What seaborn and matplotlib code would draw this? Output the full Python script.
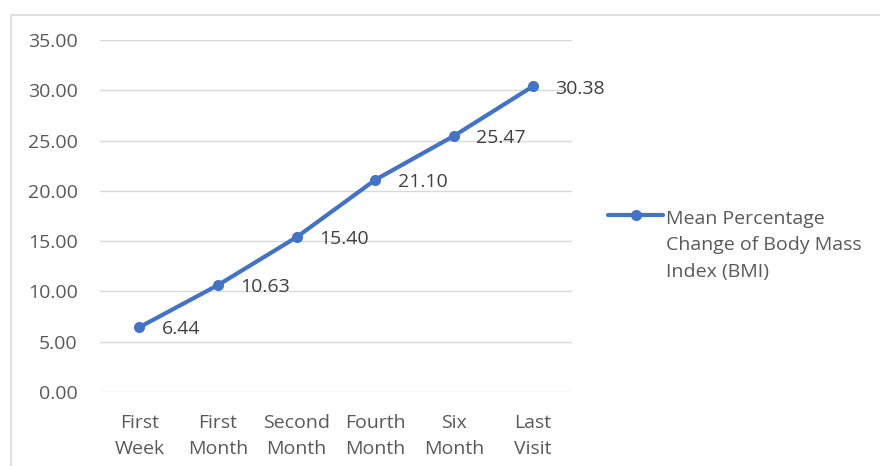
import matplotlib
matplotlib.use("Agg")
import matplotlib.pyplot as plt
import seaborn as sns
import pandas as pd
from matplotlib.patches import Rectangle
from matplotlib.lines import Line2D

categories = ["First\nWeek", "First\nMonth", "Second\nMonth", "Fourth\nMonth", "Six\nMonth", "Last\nVisit"]
values = [6.44, 10.63, 15.40, 21.10, 25.47, 30.38]
series_name = "Mean Percentage\nChange of Body Mass\nIndex (BMI)"
yticks = [0, 5, 10, 15, 20, 25, 30, 35]

sns.set_theme(style="white")
plt.rcParams['font.family'] = ['Open Sans', 'DejaVu Sans']

FS = 14
W, H = 880, 466
fig = plt.figure(figsize=(W / 100, H / 100), dpi=100)
ax = fig.add_axes([100 / W, 1 - 392 / H, (572 - 100) / W, (392 - 40) / H])

df = pd.DataFrame({"cat": categories, "val": values})
color = "#4472C4"
sns.lineplot(data=df, x="cat", y="val", color=color, sort=False, legend=False,
             marker="o", markersize=8, markeredgewidth=0, linewidth=3, ax=ax)

ax.set_xlim(-0.5, len(categories) - 0.5)
ax.set_ylim(0, 35)
ax.set_yticks(yticks)
ax.set_yticklabels([f"{v:.2f}" for v in yticks])
ax.grid(axis="y", color="#d9d9d9", linewidth=1)
ax.set_axisbelow(True)
for s in ax.spines.values():
    s.set_visible(False)
ax.set_xlabel("")
ax.set_ylabel("")
ax.tick_params(axis="both", length=0, labelsize=FS, labelcolor="#595959")
ax.tick_params(axis="y", pad=16)
ax.tick_params(axis="x", pad=16)
for t in ax.get_xticklabels():
    t.set_linespacing(1.52)

for i, v in enumerate(values):
    ax.annotate(f"{v:.2f}", (i, v), xytext=(16, -1.5), textcoords="offset points",
                ha="left", va="center", fontsize=FS, color="#404040")

# legend (manual, Excel-like: handle aligned with first text line)
ly = 1 - 215 / H
fig.add_artist(Line2D([608 / W, 663 / W], [ly, ly], transform=fig.transFigure,
                      color=color, linewidth=3))
fig.add_artist(Line2D([636 / W], [ly], transform=fig.transFigure, color=color,
                      marker="o", markersize=8, markeredgewidth=0, linestyle="none"))
fig.text(666 / W, 1 - 277 / H, series_name, ha="left", va="baseline", fontsize=FS,
         color="#595959", linespacing=1.61)

fig.patches.append(Rectangle((11 / W, -0.1), 1.2, 1 - 14.5 / H + 0.1, transform=fig.transFigure,
                             fill=False, edgecolor="#d9d9d9", linewidth=1.2))

fig.savefig("out.png", dpi=100)
